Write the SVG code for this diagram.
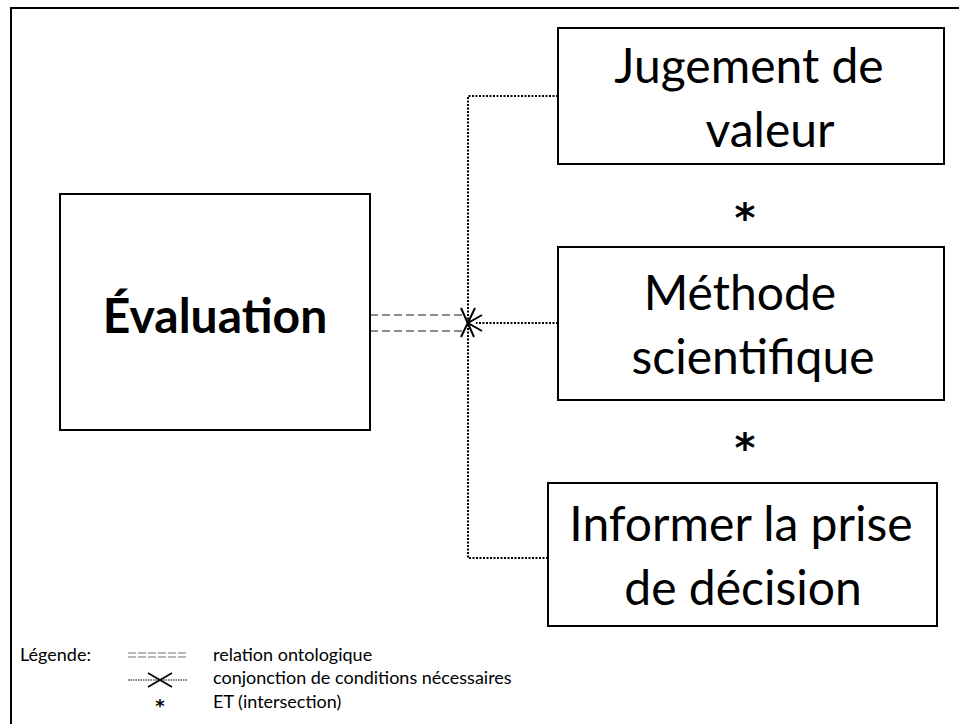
<svg xmlns="http://www.w3.org/2000/svg" width="959" height="724" viewBox="0 0 959 724">
<style>
.box{fill:#fff;stroke:#000;stroke-width:2}
.big{font-family:Lato,"Liberation Sans",sans-serif;font-size:48px;fill:#000}
.bold{font-family:Lato,"Liberation Sans",sans-serif;font-size:48px;font-weight:bold;fill:#000}
.leg{font-family:Lato,"Liberation Sans",sans-serif;font-size:18px;fill:#000}
.ast{font-family:"DejaVu Sans",sans-serif;font-weight:bold;fill:#000;text-anchor:middle}
.dot{fill:none;stroke:#000;stroke-width:2;stroke-dasharray:2 1.5}
.dash{fill:none;stroke:#666;stroke-width:1.5;stroke-dasharray:8 4}
.x{fill:none;stroke:#000;stroke-width:2}
</style>
<rect width="959" height="724" fill="#fff"/>
<path d="M11,724 V8 H959" fill="none" stroke="#000" stroke-width="2"/>
<g id="connectors">
<path class="dot" d="M558,96 H468 V558 H548"/>
<path class="dot" d="M558,323 H476"/>
<path class="dash" d="M370,315 H462 M370,331 H462"/>
<path class="x" d="M461,308 L474,337 M475,308 L461,337 M482,315 L468,323 L482,331"/>
</g>
<g id="evaluation">
<rect class="box" x="60" y="194" width="310" height="236"/>
<text class="bold" x="215" y="333" text-anchor="middle">Évaluation</text>
</g>
<g id="jugement">
<rect class="box" x="558" y="28" width="386" height="136"/>
<text class="big" x="749" y="83" text-anchor="middle">Jugement de</text>
<text class="big" x="770" y="147" text-anchor="middle">valeur</text>
</g>
<g id="methode">
<rect class="box" x="558" y="247" width="386" height="153"/>
<text class="big" x="740" y="310" text-anchor="middle">Méthode</text>
<text class="big" x="753" y="374" text-anchor="middle">scientifique</text>
</g>
<g id="informer">
<rect class="box" x="548" y="483" width="389" height="143"/>
<text class="big" x="741" y="541" text-anchor="middle">Informer la prise</text>
<text class="big" x="743" y="605" text-anchor="middle">de décision</text>
</g>
<text class="ast" x="745" y="232" font-size="40">*</text>
<text class="ast" x="745" y="462" font-size="40">*</text>
<g id="legend">
<text class="leg" x="20" y="661">Légende:</text>
<path d="M128,653 H188 M128,657 H188" fill="none" stroke="#777" stroke-width="1" stroke-dasharray="8 2"/>
<text class="leg" x="213" y="661">relation ontologique</text>
<path d="M128,680 H188" fill="none" stroke="#000" stroke-width="1.2" stroke-dasharray="1.5 1"/>
<path d="M148,673 L172,687 M148,687 L172,673" fill="none" stroke="#000" stroke-width="1.5"/>
<text class="leg" x="213" y="684">conjonction de conditions nécessaires</text>
<text class="ast" x="160" y="712" font-size="18">*</text>
<text class="leg" x="213" y="708">ET (intersection)</text>
</g>
</svg>
